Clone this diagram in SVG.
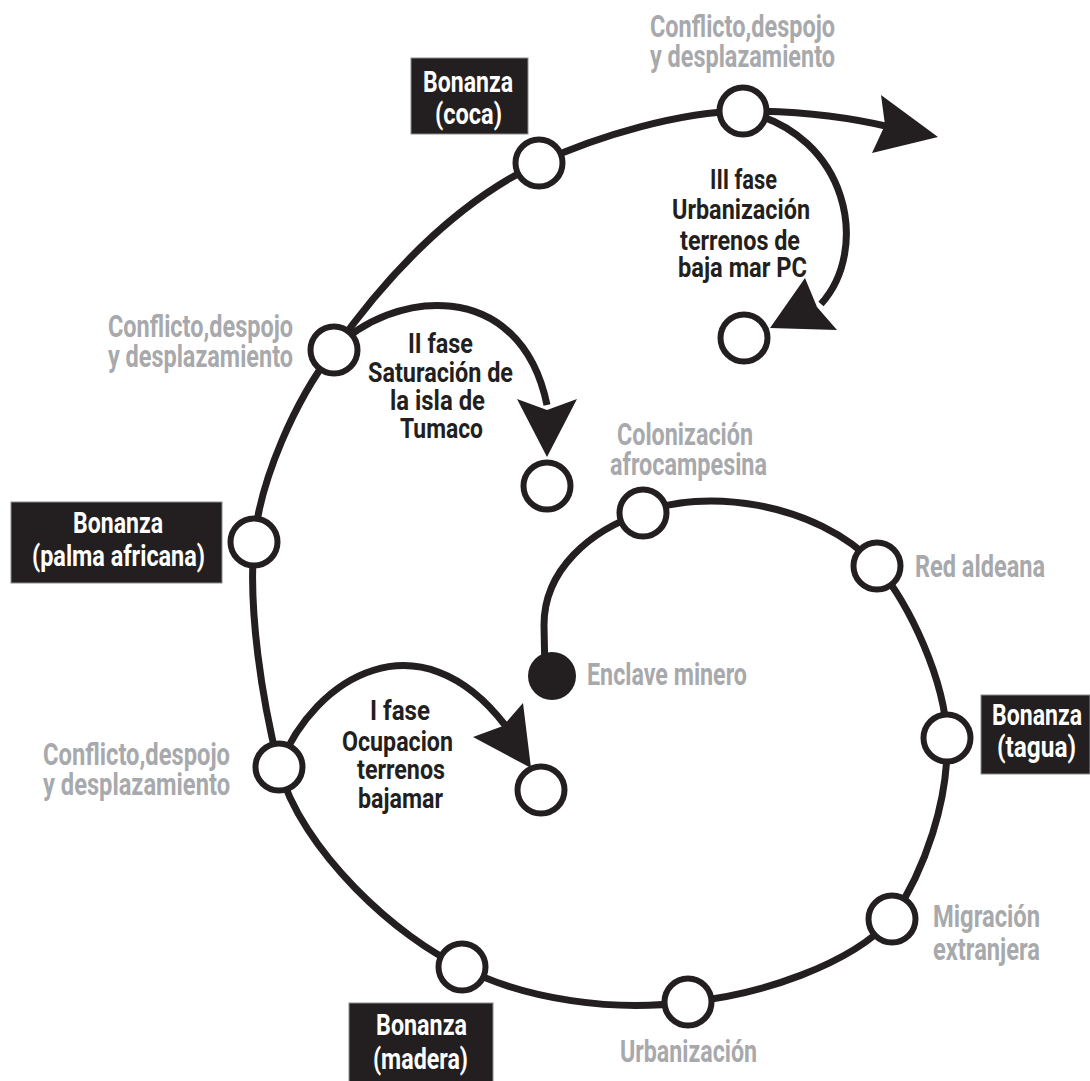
<svg xmlns="http://www.w3.org/2000/svg" width="1090" height="1081" viewBox="0 0 1090 1081">
  <style>
    text { font-family: Roboto, "Liberation Sans", sans-serif; font-weight: 700; }
    .gray { fill: #a7a9ac; font-size: 31px; }
    .dark { fill: #231f20; font-size: 28px; }
    .white { fill: #ffffff; font-size: 29px; }
    .node { fill: #ffffff; stroke: #231f20; stroke-width: 6; }
    .line { fill: none; stroke: #231f20; stroke-width: 7; }
    .head { fill: #231f20; }
    .box { fill: #231f20; stroke: #8a8b8d; stroke-width: 1; }
  </style>
  <rect width="1090" height="1081" fill="#ffffff"/>

  <!-- spiral and phase branches -->
  <g id="connectors">
    <path class="line" d="M545,676 L544,625 C544,570 590,530 643,513 C700,488 815,500 877,566 C910,605 945,680 947,738 C949,800 925,870 892,919 C850,965 760,995 688,1002 C615,1012 525,1000 462,967 C400,940 300,850 279,767 C262,700 248,610 254,542 C260,480 295,400 334,350 C380,285 450,205 539,163 C600,135 680,112 743,111 C790,111 840,115 890,127"/>
    <polygon class="head" points="938,137 881,95 885,125 872,153"/>
    <!-- III fase -->
    <path class="line" d="M743,111 C850,135 870,250 821,304"/>
    <polygon class="head" points="770,328 805,278 817,307 837,330"/>
    <!-- II fase -->
    <path class="line" d="M334,350 C390,290 520,275 547,405"/>
    <polygon class="head" points="547,457 517,399 547,410 577,399"/>
    <!-- I fase -->
    <path class="line" d="M279,767 C315,675 420,615 505,725"/>
    <polygon class="head" points="531,768 473,737 503,726 523,703"/>
  </g>

  <g id="enclave">
    <circle cx="552" cy="676" r="24" fill="#231f20"/>
    <text class="gray" x="587" y="685" textLength="160" lengthAdjust="spacingAndGlyphs">Enclave minero</text>
  </g>

  <g id="colonizacion">
    <circle class="node" cx="643" cy="513" r="23.5"/>
    <text class="gray" x="617" y="445" textLength="136" lengthAdjust="spacingAndGlyphs">Colonización</text>
    <text class="gray" x="610" y="475" textLength="157" lengthAdjust="spacingAndGlyphs">afrocampesina</text>
  </g>

  <g id="red-aldeana">
    <circle class="node" cx="877" cy="566" r="23.5"/>
    <text class="gray" x="915" y="577" textLength="130" lengthAdjust="spacingAndGlyphs">Red aldeana</text>
  </g>

  <g id="bonanza-tagua">
    <circle class="node" cx="947" cy="738" r="23.5"/>
    <rect class="box" x="981" y="695" width="109" height="79"/>
    <text class="white" x="992" y="725" textLength="90" lengthAdjust="spacingAndGlyphs">Bonanza</text>
    <text class="white" x="997" y="757" textLength="79" lengthAdjust="spacingAndGlyphs">(tagua)</text>
  </g>

  <g id="migracion">
    <circle class="node" cx="892" cy="919" r="23.5"/>
    <text class="gray" x="933" y="927" textLength="107" lengthAdjust="spacingAndGlyphs">Migración</text>
    <text class="gray" x="933" y="960" textLength="107" lengthAdjust="spacingAndGlyphs">extranjera</text>
  </g>

  <g id="urbanizacion">
    <circle class="node" cx="688" cy="1002" r="23.5"/>
    <text class="gray" x="620" y="1062" textLength="137" lengthAdjust="spacingAndGlyphs">Urbanización</text>
  </g>

  <g id="bonanza-madera">
    <circle class="node" cx="462" cy="967" r="23.5"/>
    <rect class="box" x="349" y="1003" width="144" height="82"/>
    <text class="white" x="376" y="1035" textLength="91" lengthAdjust="spacingAndGlyphs">Bonanza</text>
    <text class="white" x="373" y="1069" textLength="95" lengthAdjust="spacingAndGlyphs">(madera)</text>
  </g>

  <g id="conflicto-1">
    <circle class="node" cx="279" cy="767" r="23.5"/>
    <text class="gray" x="43" y="765" textLength="187" lengthAdjust="spacingAndGlyphs">Conflicto,despojo</text>
    <text class="gray" x="43" y="795" textLength="187" lengthAdjust="spacingAndGlyphs">y desplazamiento</text>
  </g>

  <g id="bonanza-palma">
    <circle class="node" cx="254" cy="542" r="23.5"/>
    <rect class="box" x="11" y="502" width="211" height="81"/>
    <text class="white" x="73" y="533" textLength="90" lengthAdjust="spacingAndGlyphs">Bonanza</text>
    <text class="white" x="32" y="566" textLength="173" lengthAdjust="spacingAndGlyphs">(palma africana)</text>
  </g>

  <g id="conflicto-2">
    <circle class="node" cx="334" cy="350" r="23.5"/>
    <text class="gray" x="108" y="337" textLength="185" lengthAdjust="spacingAndGlyphs">Conflicto,despojo</text>
    <text class="gray" x="108" y="367" textLength="185" lengthAdjust="spacingAndGlyphs">y desplazamiento</text>
  </g>

  <g id="bonanza-coca">
    <circle class="node" cx="539" cy="163" r="23.5"/>
    <rect class="box" x="411" y="58" width="117" height="76"/>
    <text class="white" x="423" y="92" textLength="90" lengthAdjust="spacingAndGlyphs">Bonanza</text>
    <text class="white" x="435" y="124" textLength="67" lengthAdjust="spacingAndGlyphs">(coca)</text>
  </g>

  <g id="conflicto-3">
    <circle class="node" cx="743" cy="111" r="23.5"/>
    <text class="gray" x="650" y="37" textLength="185" lengthAdjust="spacingAndGlyphs">Conflicto,despojo</text>
    <text class="gray" x="650" y="67" textLength="185" lengthAdjust="spacingAndGlyphs">y desplazamiento</text>
  </g>

  <g id="fase-3">
    <circle class="node" cx="744" cy="338" r="23.5"/>
    <text class="dark" x="710" y="189" textLength="67" lengthAdjust="spacingAndGlyphs">III fase</text>
    <text class="dark" x="672" y="219" textLength="138" lengthAdjust="spacingAndGlyphs">Urbanización</text>
    <text class="dark" x="680" y="250" textLength="120" lengthAdjust="spacingAndGlyphs">terrenos de</text>
    <text class="dark" x="678" y="277" textLength="129" lengthAdjust="spacingAndGlyphs">baja mar PC</text>
  </g>

  <g id="fase-2">
    <circle class="node" cx="547" cy="486" r="23.5"/>
    <text class="dark" x="408" y="353" textLength="65" lengthAdjust="spacingAndGlyphs">II fase</text>
    <text class="dark" x="368" y="382" textLength="145" lengthAdjust="spacingAndGlyphs">Saturación de</text>
    <text class="dark" x="390" y="410" textLength="95" lengthAdjust="spacingAndGlyphs">la isla de</text>
    <text class="dark" x="400" y="438" textLength="83" lengthAdjust="spacingAndGlyphs">Tumaco</text>
  </g>

  <g id="fase-1">
    <circle class="node" cx="541" cy="790" r="23.5"/>
    <text class="dark" x="370" y="720" textLength="60" lengthAdjust="spacingAndGlyphs">I fase</text>
    <text class="dark" x="342" y="751" textLength="111" lengthAdjust="spacingAndGlyphs">Ocupacion</text>
    <text class="dark" x="357" y="779" textLength="88" lengthAdjust="spacingAndGlyphs">terrenos</text>
    <text class="dark" x="358" y="808" textLength="85" lengthAdjust="spacingAndGlyphs">bajamar</text>
  </g>
</svg>
